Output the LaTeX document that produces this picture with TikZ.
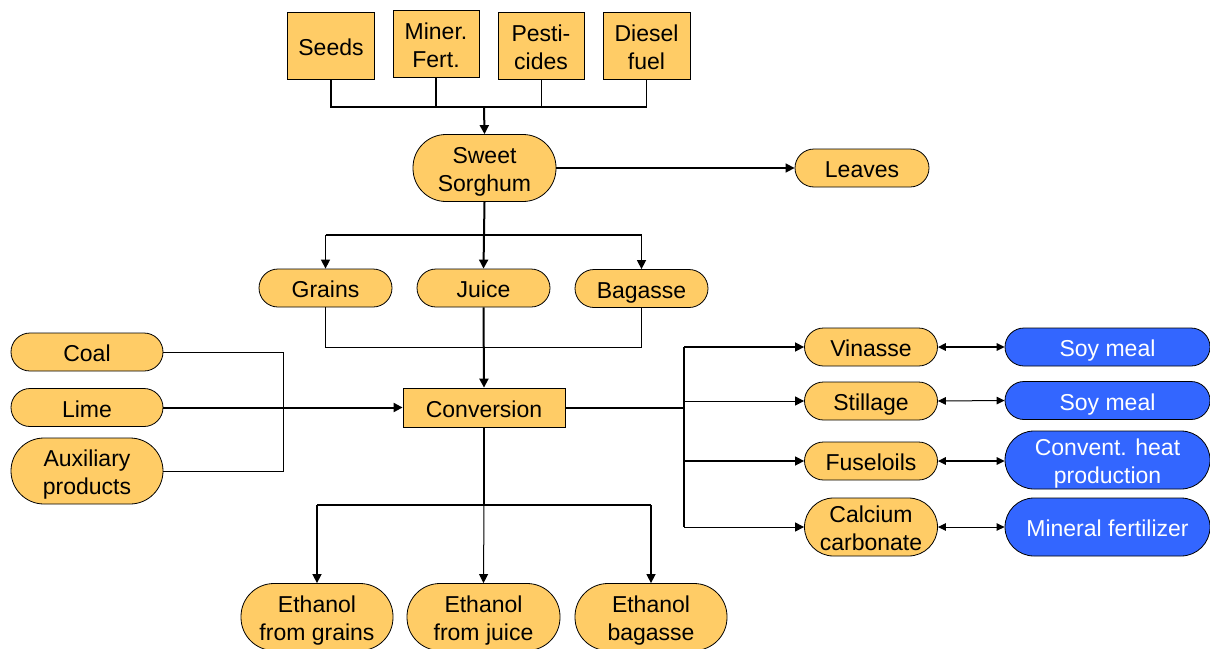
\documentclass[tikz,border=0pt]{standalone}
\usepackage{fontspec}
\setmainfont{Liberation Sans}
\usetikzlibrary{arrows.meta}
\definecolor{orng}{HTML}{FFCC66}
\definecolor{blu}{HTML}{3366FF}
\newcommand\capl[1]{\smash{\raisebox{-1.6pt}{#1}}\vphantom{X}}
\begin{document}
\begin{tikzpicture}[x=1pt,y=-1pt,
  base/.style={draw=black,line width=0.8pt,inner sep=0pt,align=center,font=\fontsize{23}{28}\selectfont},
  inbox/.style={base,fill=orng,minimum width=#1,minimum height=67pt},
  pill/.style={base,fill=orng,rounded corners=19pt,minimum height=38pt,minimum width=#1},
  pilltall/.style={base,fill=orng,rounded corners=29pt,minimum height=58pt,minimum width=#1},
  pillbig/.style={base,fill=orng,rounded corners=33pt,minimum height=67pt,minimum width=#1},
  bpill/.style={base,fill=blu,text=white,rounded corners=19pt,minimum height=38pt,minimum width=205pt},
  bpilltall/.style={base,fill=blu,text=white,rounded corners=29pt,minimum height=58pt,minimum width=205pt},
  thk/.style={line width=2pt},
  mid/.style={line width=1.5pt},
  thn/.style={line width=1pt},
  tip/.style={-{Triangle[length=9pt,width=9pt]}},
  dtip/.style={{Triangle[length=8pt,width=7.5pt]}-{Triangle[length=8pt,width=7.5pt]}}
]
\useasboundingbox (0,0) rectangle (1210,648);
% top inputs
\node[inbox=87pt] (seeds) at (331,45.5) {\capl{Seeds}};
\node[inbox=86pt] (fert) at (436,43.5) {\capl{Miner.}\\\capl{Fert.}};
\node[inbox=86pt] (pest) at (541,45.5) {\capl{Pesti-}\\\capl{cides}};
\node[inbox=87pt] (diesel) at (646.5,45.5) {\capl{Diesel}\\\capl{fuel}};
\node[pillbig=143pt] (sorghum) at (484.5,168) {\capl{Sweet}\\\capl{Sorghum}};
\node[pill=134pt] (leaves) at (862,168) {\capl{Leaves}};
\node[pill=133pt] (grains) at (325.5,288) {\capl{Grains}};
\node[pill=133pt] (juice) at (483.5,288) {\capl{Juice}};
\node[pill=133pt] (bagasse) at (641.5,288.5) {\capl{Bagasse}};
\node[base,fill=orng,minimum width=162pt,minimum height=39pt] (conv) at (484,407.5) {\capl{Conversion}};
\node[pill=152pt] (coal) at (87,352) {\capl{Coal}};
\node[pill=152pt] (lime) at (87,407.5) {\capl{Lime}};
\node[pillbig=152pt,minimum height=66pt] (aux) at (87,471) {\capl{Auxiliary}\\\capl{products}};
\node[pill=133pt] (vin) at (871,347) {\capl{Vinasse}};
\node[pill=133pt] (still) at (871,401) {\capl{Stillage}};
\node[pill=133pt] (fusel) at (871,461) {\capl{Fuseloils}};
\node[pilltall=133pt] (calc) at (871,527) {\capl{Calcium}\\\capl{carbonate}};
\node[bpill] (soy1) at (1107.5,347) {\capl{Soy meal}};
\node[bpill] (soy2) at (1107.5,400.5) {\capl{Soy meal}};
\node[bpilltall] (heat) at (1107.5,460) {\capl{Convent. heat}\\\capl{production}};
\node[bpilltall] (minf) at (1107.5,527) {\capl{Mineral fertilizer}};
\node[pillbig=152pt] (eth1) at (317,617) {\capl{Ethanol}\\\capl{from grains}};
\node[pillbig=153pt] (eth2) at (483.5,617) {\capl{Ethanol}\\\capl{from juice}};
\node[pillbig=152pt] (eth3) at (651,617) {\capl{Ethanol}\\\capl{bagasse}};
% junction coordinates
\coordinate (jtop) at (484,107);
\coordinate (jmid) at (484,235);
\coordinate (jlow) at (484,347);
\coordinate (jaux) at (283,352);
\coordinate (jright) at (684,407.5);
\coordinate (jbot) at (484,505);
% top bus
\draw[mid] (seeds.south) -- (seeds.south |- jtop) -- (diesel.south |- jtop) -- (diesel.south);
\draw[mid] (fert.south) -- (fert.south |- jtop) -- (jtop);
\draw[thn] (pest.south) -- (pest.south |- jtop);
\draw[thk,tip] (jtop) -- (sorghum.north);
% sorghum outputs
\draw[mid,tip] (sorghum.east) -- (leaves.west);
\draw[thk] (sorghum.south) -- (jmid);
\draw[mid,tip] (grains.north |- jmid) -- (grains.north);
\draw[mid] (grains.north |- jmid) -- (bagasse.north |- jmid);
\draw[mid,tip] (bagasse.north |- jmid) -- (bagasse.north);
\draw[thk,tip] (jmid) -- (juice.north);
% to conversion
\draw[thn] (grains.south) -- (grains.south |- jlow) -- (bagasse.south |- jlow) -- (bagasse.south);
\draw[thk,tip] (juice.south) -- (conv.north);
\draw[thn] (coal.east) -- (jaux) -- (jaux |- aux.east) -- (aux.east);
\draw[thk,tip] (lime.east) -- (conv.west);
% conversion right
\draw[thk] (conv.east) -- (jright);
\draw[mid] (jright |- vin.west) -- (jright |- calc.west);
\draw[mid,tip] (jright |- vin.west) -- (vin.west);
\draw[thn,tip] (jright |- still.west) -- (still.west);
\draw[mid,tip] (jright |- fusel.west) -- (fusel.west);
\draw[thn,tip] (jright |- calc.west) -- (calc.west);
% double arrows
\draw[mid,dtip] (vin.east) -- (soy1.west);
\draw[thn,dtip] (still.east) -- (soy2.west);
\draw[mid,dtip] (fusel.east) -- (fusel.east -| heat.west);
\draw[thn,dtip] (calc.east) -- (minf.west);
% bottom
\draw[thk] (conv.south) -- (jbot);
\draw[mid] (eth1.north |- jbot) -- (eth3.north |- jbot);
\draw[mid,tip] (eth1.north |- jbot) -- (eth1.north);
\draw[thn,tip] (jbot) -- (eth2.north);
\draw[mid,tip] (eth3.north |- jbot) -- (eth3.north);
\end{tikzpicture}
\end{document}
